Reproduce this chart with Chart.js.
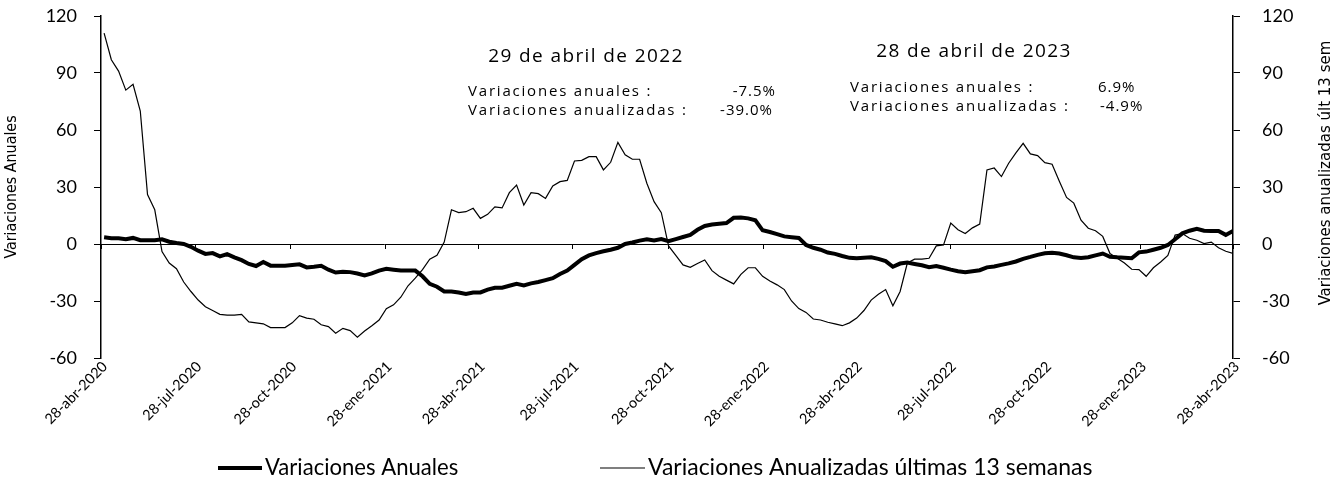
<!DOCTYPE html>
<html>
<head>
<meta charset="utf-8">
<script src="https://cdn.jsdelivr.net/npm/chart.js@4.4.1/dist/chart.umd.min.js"></script>
<style>
  html, body { margin: 0; padding: 0; background: #fff; }
</style>
</head>
<body>
<canvas id="chart" width="1338" height="487"></canvas>
<script>
// weekly data (fridays), first point 1-may-2020, last 28-abr-2023
const axisStart = "2020-04-28";
const axisEnd = "2023-04-28";
const firstWeek = "2020-05-01";

const tickDates = ["2020-04-28", "2020-07-28", "2020-10-28", "2021-01-28", "2021-04-28", "2021-07-28",
  "2021-10-28", "2022-01-28", "2022-04-28", "2022-07-28", "2022-10-28", "2023-01-28", "2023-04-28"];
const tickLabels = ["28-abr-2020", "28-jul-2020", "28-oct-2020", "28-ene-2021", "28-abr-2021", "28-jul-2021",
  "28-oct-2021", "28-ene-2022", "28-abr-2022", "28-jul-2022", "28-oct-2022", "28-ene-2023", "28-abr-2023"];

const seriesNames = ["Variaciones Anuales", "Variaciones Anualizadas últimas 13 semanas"];

// Variaciones Anuales (eje izquierdo)
const annual = [
  3.5, 3, 3, 2.5, 3.2, 2, 2, 2, 2.5, 1.2,
  0.5, 0, -1.5, -3.5, -5.2, -4.8, -6.5, -5.3, -7, -8.5,
  -10.5, -11.6, -9.5, -11.4, -11.4, -11.4, -11, -10.7, -12.3, -12,
  -11.5, -13.5, -15, -14.6, -14.8, -15.5, -16.5, -15.5, -14, -13,
  -13.5, -14, -14, -14, -17, -21, -22.5, -25, -25, -25.5,
  -26.3, -25.5, -25.5, -24, -23, -23, -22, -21, -21.8, -20.7,
  -20, -19, -18, -15.8, -14, -11, -8, -6, -4.8, -3.8,
  -3, -2, 0, 0.8, 1.8, 2.5, 1.8, 2.6, 1.5, 2.6,
  3.7, 4.8, 7.5, 9.5, 10.3, 10.7, 11, 13.8, 14, 13.5,
  12.5, 7.2, 6.3, 5.2, 4, 3.6, 3.2, -0.5, -2, -3,
  -4.5, -5.2, -6.3, -7.3, -7.5, -7.2, -7, -7.8, -9, -12,
  -10.3, -9.8, -10.5, -11.2, -12.2, -11.6, -12.5, -13.5, -14.3, -14.8,
  -14.3, -13.8, -12.3, -11.8, -11, -10.2, -9.2, -7.8, -6.8, -5.7,
  -4.9, -4.6, -5, -5.9, -7, -7.4, -7, -6, -5, -6.7,
  -7, -7.2, -7.5, -4.4, -4, -3, -2, -0.5, 2.5, 5.6,
  7, 8, 7, 6.9, 6.8, 4.8, 6.9
];

// Variaciones Anualizadas ultimas 13 semanas (eje derecho)
const annualized = [
  111, 97, 91, 81, 84, 70, 26, 18, -4, -10,
  -13, -20, -25, -29.5, -33, -35, -37, -37.4, -37.4, -37,
  -41, -41.5, -42, -44, -44, -44, -41.5, -37.7, -39, -39.6,
  -42.5, -43.5, -47, -44.4, -45.6, -49, -45.8, -43, -40, -34,
  -32, -28, -22, -18, -13.5, -8, -6, 1, 18, 16.5,
  17, 18.8, 13.5, 15.6, 19.5, 19, 27, 31, 20.5, 27,
  26.5, 24, 30.5, 32.8, 33.5, 43.7, 44, 46, 46, 39,
  43, 53.5, 47, 44.6, 44.6, 32, 22.3, 16.5, -1, -6,
  -11, -12.3, -10.3, -8.4, -14, -17, -19, -21, -16, -12.5,
  -12.5, -17, -19.5, -21.5, -24, -30, -34, -36, -39.5, -40,
  -41.2, -42, -43, -41.5, -39, -35, -29.5, -26.5, -24, -32.5,
  -25, -10, -8, -8, -7.5, -1, -0.5, 11, 7.5, 5.5,
  8.5, 10.5, 39, 40, 35.5, 42.5, 48, 53, 47.4, 46.5,
  42.8, 42, 33, 24.5, 21.5, 12.5, 8.3, 7, 4, -5,
  -7.5, -10, -13.3, -13.5, -17, -12.5, -9.5, -6, 4.7, 5.5,
  3, 2, 0.2, 1, -2, -3.8, -4.9
];

const noteTitles = ["29 de abril de 2022", "28 de abril de 2023"];
const noteAnual = ["-7.5%", "6.9%"];
const noteAnualizada = ["-39.0%", "-4.9%"];

const dayOf = iso => (Date.parse(iso) - Date.parse(axisStart)) / 864e5;
const weekX = i => dayOf(firstWeek) + 7 * i;
const toPoints = arr => arr.map((v, i) => ({ x: weekX(i), y: v }));

const tickFont = "Lato, 'Liberation Sans', sans-serif";
const noteFont = "'Open Sans', 'Noto Sans', sans-serif";
const narrowFont = "'Liberation Sans Narrow', 'DejaVu Sans Condensed', 'Liberation Sans', sans-serif";

// font size so that text spans the given width
function fitSize(ctx, text, family, width) {
  ctx.font = "100px " + family;
  return 100 * width / ctx.measureText(text).width;
}

function drawRotated(ctx, text, x, y, len) {
  ctx.save();
  const size = fitSize(ctx, text, narrowFont, len);
  ctx.translate(x, y);
  ctx.rotate(-Math.PI / 2);
  ctx.font = size.toFixed(1) + "px " + narrowFont;
  ctx.textAlign = "center";
  ctx.textBaseline = "middle";
  ctx.fillText(text, 0, 0);
  ctx.restore();
}

const decorPlugin = {
  id: "decor",
  afterDraw(chart) {
    const ctx = chart.ctx;
    const xs = chart.scales.x;
    const ys = chart.scales.y;
    const y0 = ys.getPixelForValue(0);
    ctx.save();
    ctx.fillStyle = "#000";
    ctx.strokeStyle = "#000";

    // tick marks hanging under the zero line
    ctx.lineWidth = 1;
    tickDates.forEach(d => {
      const px = Math.round(xs.getPixelForValue(dayOf(d))) + 0.5;
      ctx.beginPath();
      ctx.moveTo(px, y0);
      ctx.lineTo(px, y0 + 5);
      ctx.stroke();
    });

    // axis titles
    drawRotated(ctx, "Variaciones Anuales", 12, 187, 143);
    drawRotated(ctx, "Variaciones anualizadas últ 13 sem", 1326, 173, 265);

    // notes
    const blocks = [
      { cx: 586, ty: 57, lx: 468, r1: 92, r2: 111, v1x: 776, v2x: 773, align: "right" },
      { cx: 974, ty: 52, lx: 850, r1: 88, r2: 107, v1x: 1098, v2x: 1100, align: "left" }
    ];
    blocks.forEach((b, i) => {
      ctx.textBaseline = "middle";
      ctx.textAlign = "center";
      ctx.font = "19px " + noteFont;
      ctx.letterSpacing = "1.4px";
      ctx.fillText(noteTitles[i], b.cx, b.ty);
      ctx.textAlign = "left";
      ctx.font = "15px " + noteFont;
      ctx.letterSpacing = "1.8px";
      ctx.fillText("Variaciones anuales :", b.lx, b.r1);
      ctx.fillText("Variaciones anualizadas :", b.lx, b.r2);
      ctx.letterSpacing = "1px";
      ctx.textAlign = b.align;
      ctx.fillText(noteAnual[i], b.v1x, b.r1);
      ctx.fillText(noteAnualizada[i], b.v2x, b.r2);
    });
    ctx.letterSpacing = "0px";

    // legend
    const ly = 468;
    const items = [{ x1: 218, x2: 262, w: 193 }, { x1: 600, x2: 645, w: 444 }];
    ctx.textAlign = "left";
    ctx.textBaseline = "middle";
    chart.data.datasets.forEach((ds, i) => {
      const size = fitSize(ctx, ds.label, tickFont, items[i].w);
      ctx.font = size.toFixed(1) + "px " + tickFont;
      ctx.lineWidth = ds.borderWidth;
      ctx.beginPath();
      ctx.moveTo(items[i].x1, ly);
      ctx.lineTo(items[i].x2, ly);
      ctx.stroke();
      ctx.fillText(ds.label, items[i].x2 + 3, ly);
    });
    ctx.restore();
  }
};

const tickStyle = { color: "#000", font: { family: tickFont, size: 18 } };

// fixed axis widths, no extra vertical padding from the tick labels
const fixWidth = w => s => {
  s.width = w;
  s.paddingTop = 0;
  s.paddingBottom = 0;
};

new Chart(document.getElementById("chart"), {
  type: "line",
  data: {
    datasets: [
      {
        label: seriesNames[0],
        data: toPoints(annual),
        borderColor: "#000",
        borderWidth: 4,
        pointRadius: 0,
        yAxisID: "y"
      },
      {
        label: seriesNames[1],
        data: toPoints(annualized),
        borderColor: "#000",
        borderWidth: 1.2,
        pointRadius: 0,
        yAxisID: "y2"
      }
    ]
  },
  options: {
    responsive: false,
    animation: false,
    devicePixelRatio: 1,
    layout: { padding: { top: 16, left: 0, right: 0, bottom: 49 } },
    plugins: {
      legend: { display: false },
      tooltip: { enabled: false }
    },
    scales: {
      x: {
        type: "linear",
        min: 0,
        max: dayOf(axisEnd),
        afterBuildTicks: s => { s.ticks = tickDates.map(d => ({ value: dayOf(d) })); },
        afterFit: s => { s.height = 80; },
        grid: { display: false, drawTicks: false },
        border: { display: false },
        ticks: {
          autoSkip: false,
          minRotation: 45,
          maxRotation: 45,
          padding: 0,
          labelOffset: 4,
          color: "#000",
          font: { family: tickFont, size: 14.5 },
          callback: (v, i) => tickLabels[i]
        }
      },
      y: {
        position: "left",
        min: -60,
        max: 120,
        afterFit: fixWidth(101),
        ticks: { ...tickStyle, stepSize: 30, padding: 17 },
        grid: {
          color: c => (c.tick && c.tick.value === 0 ? "#000" : "transparent"),
          tickColor: "#000",
          tickLength: 7,
          lineWidth: 1
        },
        border: { color: "#000", width: 1.5 }
      },
      y2: {
        position: "right",
        min: -60,
        max: 120,
        afterFit: fixWidth(105),
        ticks: { ...tickStyle, stepSize: 30, padding: 22 },
        grid: { drawOnChartArea: false, tickColor: "#000", tickLength: 7 },
        border: { color: "#000", width: 1.5 }
      }
    }
  },
  plugins: [decorPlugin]
});
</script>
</body>
</html>
